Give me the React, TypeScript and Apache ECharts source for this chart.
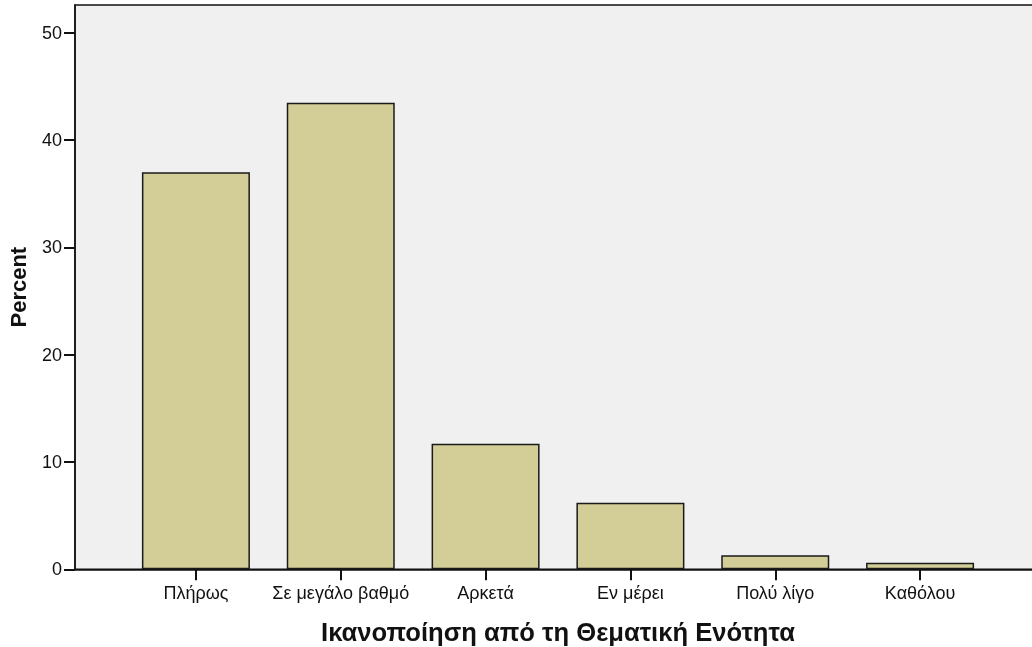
import React, { useEffect, useRef } from "react";
import * as echarts from "echarts";

const categories = ["Πλήρως", "Σε μεγάλο βαθμό", "Αρκετά", "Εν μέρει", "Πολύ λίγο", "Καθόλου"];
const percents = [37.0, 43.5, 11.7, 6.2, 1.3, 0.6];
const yTicks = [0, 10, 20, 30, 40, 50];
const yMax = 52.6;
const xTitle = "Ικανοποίηση από τη Θεματική Ενότητα";
const yTitle = "Percent";

const FONT = "'Liberation Sans', Arial, sans-serif";

export default function App() {
  const ref = useRef<HTMLDivElement>(null);
  useEffect(() => {
    if (!ref.current) return;
    const chart = echarts.init(ref.current, null, { renderer: "svg" });
    chart.setOption({
      animation: false,
      textStyle: { fontFamily: FONT },
      grid: [
        {
          left: 75, right: -9, top: 5, bottom: 77.7, outerBoundsMode: "none", containLabel: false,
          show: true, backgroundColor: "#F0F0F0", borderColor: "#111", borderWidth: 1.5,
        },
        { left: 123.5, right: 39.5, top: 5, bottom: 77.7, outerBoundsMode: "none", containLabel: false },
      ],
      xAxis: [
        {
          type: "value", gridIndex: 0, min: 0, max: 1,
          axisLine: { show: true, lineStyle: { color: "#111", width: 1.5 } },
          axisTick: { show: false }, axisLabel: { show: false }, splitLine: { show: false },
        },
        {
          type: "category", gridIndex: 1, data: categories,
          axisLine: { show: false },
          axisTick: { show: true, alignWithLabel: true, length: 11, lineStyle: { color: "#111", width: 2 } },
          axisLabel: { color: "#111", fontSize: 18, margin: 15, interval: 0, hideOverlap: false, fontFamily: FONT },
          name: xTitle, nameLocation: "middle", nameGap: 50,
          nameTextStyle: { fontSize: 25.6, fontWeight: "bold", color: "#111", fontFamily: FONT },
        },
      ],
      yAxis: [
        {
          type: "value", gridIndex: 0, min: 0, max: yMax, interval: 10,
          axisLine: { show: true, lineStyle: { color: "#111", width: 1.5 } },
          axisTick: { show: true, length: 11, lineStyle: { color: "#111", width: 2 }, customValues: yTicks },
          axisLabel: { color: "#111", fontSize: 18, margin: 13, customValues: yTicks, fontFamily: FONT },
          splitLine: { show: false },
          name: yTitle, nameLocation: "middle", nameGap: 46,
          nameTextStyle: { fontSize: 22, fontWeight: "bold", color: "#111", fontFamily: FONT },
        },
        {
          type: "value", gridIndex: 1, min: 0, max: yMax,
          show: false, splitLine: { show: false },
        },
      ],
      series: [
        {
          type: "bar", xAxisIndex: 1, yAxisIndex: 1, data: percents, barWidth: 108,
          itemStyle: { color: "#D3CE97", borderColor: "#1a1a1a", borderWidth: 1.5 },
        },
      ],
    });
    return () => chart.dispose();
  }, []);
  return <div ref={ref} style={{ position: "fixed", left: 0, top: 0, width: 1032, height: 647 }} />;
}
